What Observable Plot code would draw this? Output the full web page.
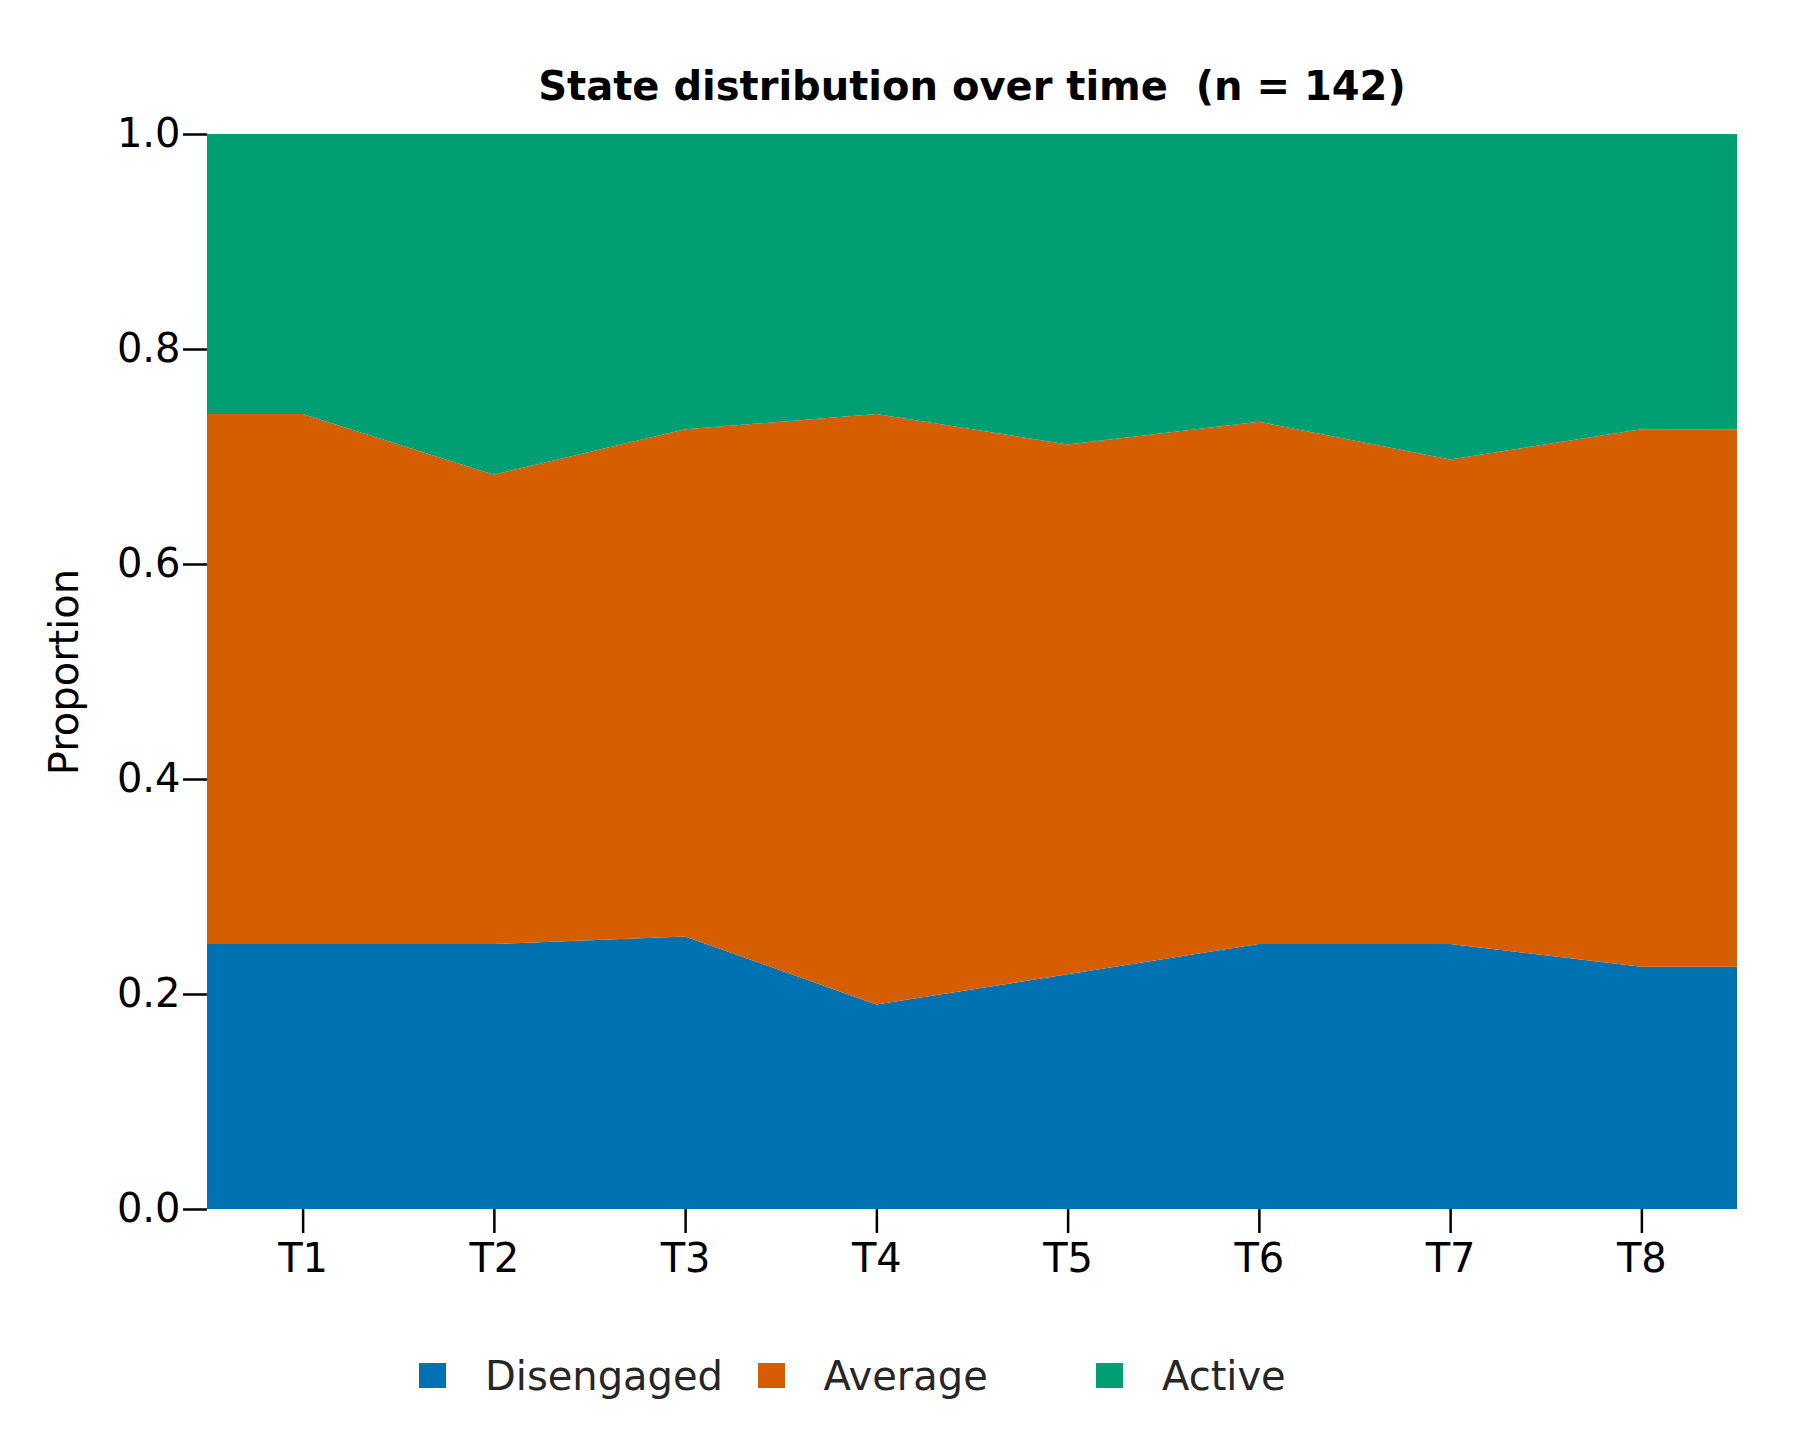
<!DOCTYPE html>
<html>
<head>
<meta charset="utf-8">
<script src="https://cdn.jsdelivr.net/npm/d3@7"></script>
<script src="https://cdn.jsdelivr.net/npm/@observablehq/plot@0.6"></script>
<style>
  html, body { margin: 0; padding: 0; background: #ffffff; }
  #page { position: relative; width: 1800px; height: 1440px; font-family: "DejaVu Sans", sans-serif; }
  #title { position: absolute; left: 207px; width: 1530px; top: 66px; text-align: center;
           font-size: 40px; line-height: 40px; font-weight: bold; color: #000; white-space: pre; }
  #chart { position: absolute; left: 0; top: 110px; }
  #legend { position: absolute; left: 419px; top: 1356px; display: flex; }
  .item { display: flex; align-items: flex-start; width: 338.5px; }
  .sw { width: 27px; height: 25px; margin-top: 7px; margin-right: 39px; }
  .lab { font-size: 40px; line-height: 40px; color: #262626; }
</style>
</head>
<body>
<div id="page">
  <div id="title"></div>
  <div id="chart"></div>
  <div id="legend"></div>
</div>
<script>
const titleText = "State distribution over time  (n = 142)";
const yLabel = "Proportion";
const n = 142;
const times = ["T1", "T2", "T3", "T4", "T5", "T6", "T7", "T8"];
const states = ["Disengaged", "Average", "Active"];
const colors = ["#0072B2", "#D55E00", "#009E73"];
const disengaged = [35, 35, 36, 27, 31, 35, 35, 32];
const average = [70, 62, 67, 78, 70, 69, 64, 71];
const active = [37, 45, 39, 37, 41, 38, 43, 39];
const yTicks = [0.0, 0.2, 0.4, 0.6, 0.8, 1.0];

const counts = {Disengaged: disengaged, Average: average, Active: active};

// Build rows: each series runs linearly between time points and is held flat to the half-step edges
const rows = [];
for (const s of states) {
  const c = counts[s];
  rows.push({x: 0.5, state: s, p: c[0] / n});
  c.forEach((v, i) => rows.push({x: i + 1, state: s, p: v / n}));
  rows.push({x: times.length + 0.5, state: s, p: c[c.length - 1] / n});
}

document.getElementById("title").textContent = titleText;

const chart = Plot.plot({
  width: 1800,
  height: 1210,
  marginTop: 24,
  marginBottom: 111,
  marginLeft: 207,
  marginRight: 63,
  style: {fontFamily: "DejaVu Sans", fontSize: "40px", background: "white", color: "black", overflow: "visible"},
  x: {domain: [0.5, times.length + 0.5]},
  y: {domain: [0, 1]},
  color: {domain: states, range: colors},
  marks: [
    Plot.areaY(rows, {x: "x", y: "p", fill: "state", order: states}),
    Plot.axisX({
      ticks: times.map((t, i) => i + 1),
      tickFormat: d => times[d - 1],
      tickSize: 24, tickPadding: 10, strokeWidth: 2.5, fontSize: 40, label: null
    }),
    Plot.axisY({
      ticks: yTicks,
      tickFormat: d3.format(".1f"),
      tickSize: 24, tickPadding: 3, strokeWidth: 2.5, fontSize: 40, label: null
    }),
    Plot.text([yLabel], {
      text: d => d, frameAnchor: "left", rotate: -90, dx: -142,
      fontSize: 40, fill: "black", textAnchor: "middle"
    })
  ]
});
document.getElementById("chart").appendChild(chart);

const legend = document.getElementById("legend");
states.forEach((s, i) => {
  const item = document.createElement("div");
  item.className = "item";
  const sw = document.createElement("div");
  sw.className = "sw";
  sw.style.background = colors[i];
  const lab = document.createElement("div");
  lab.className = "lab";
  lab.textContent = s;
  item.appendChild(sw);
  item.appendChild(lab);
  legend.appendChild(item);
});
</script>
</body>
</html>
